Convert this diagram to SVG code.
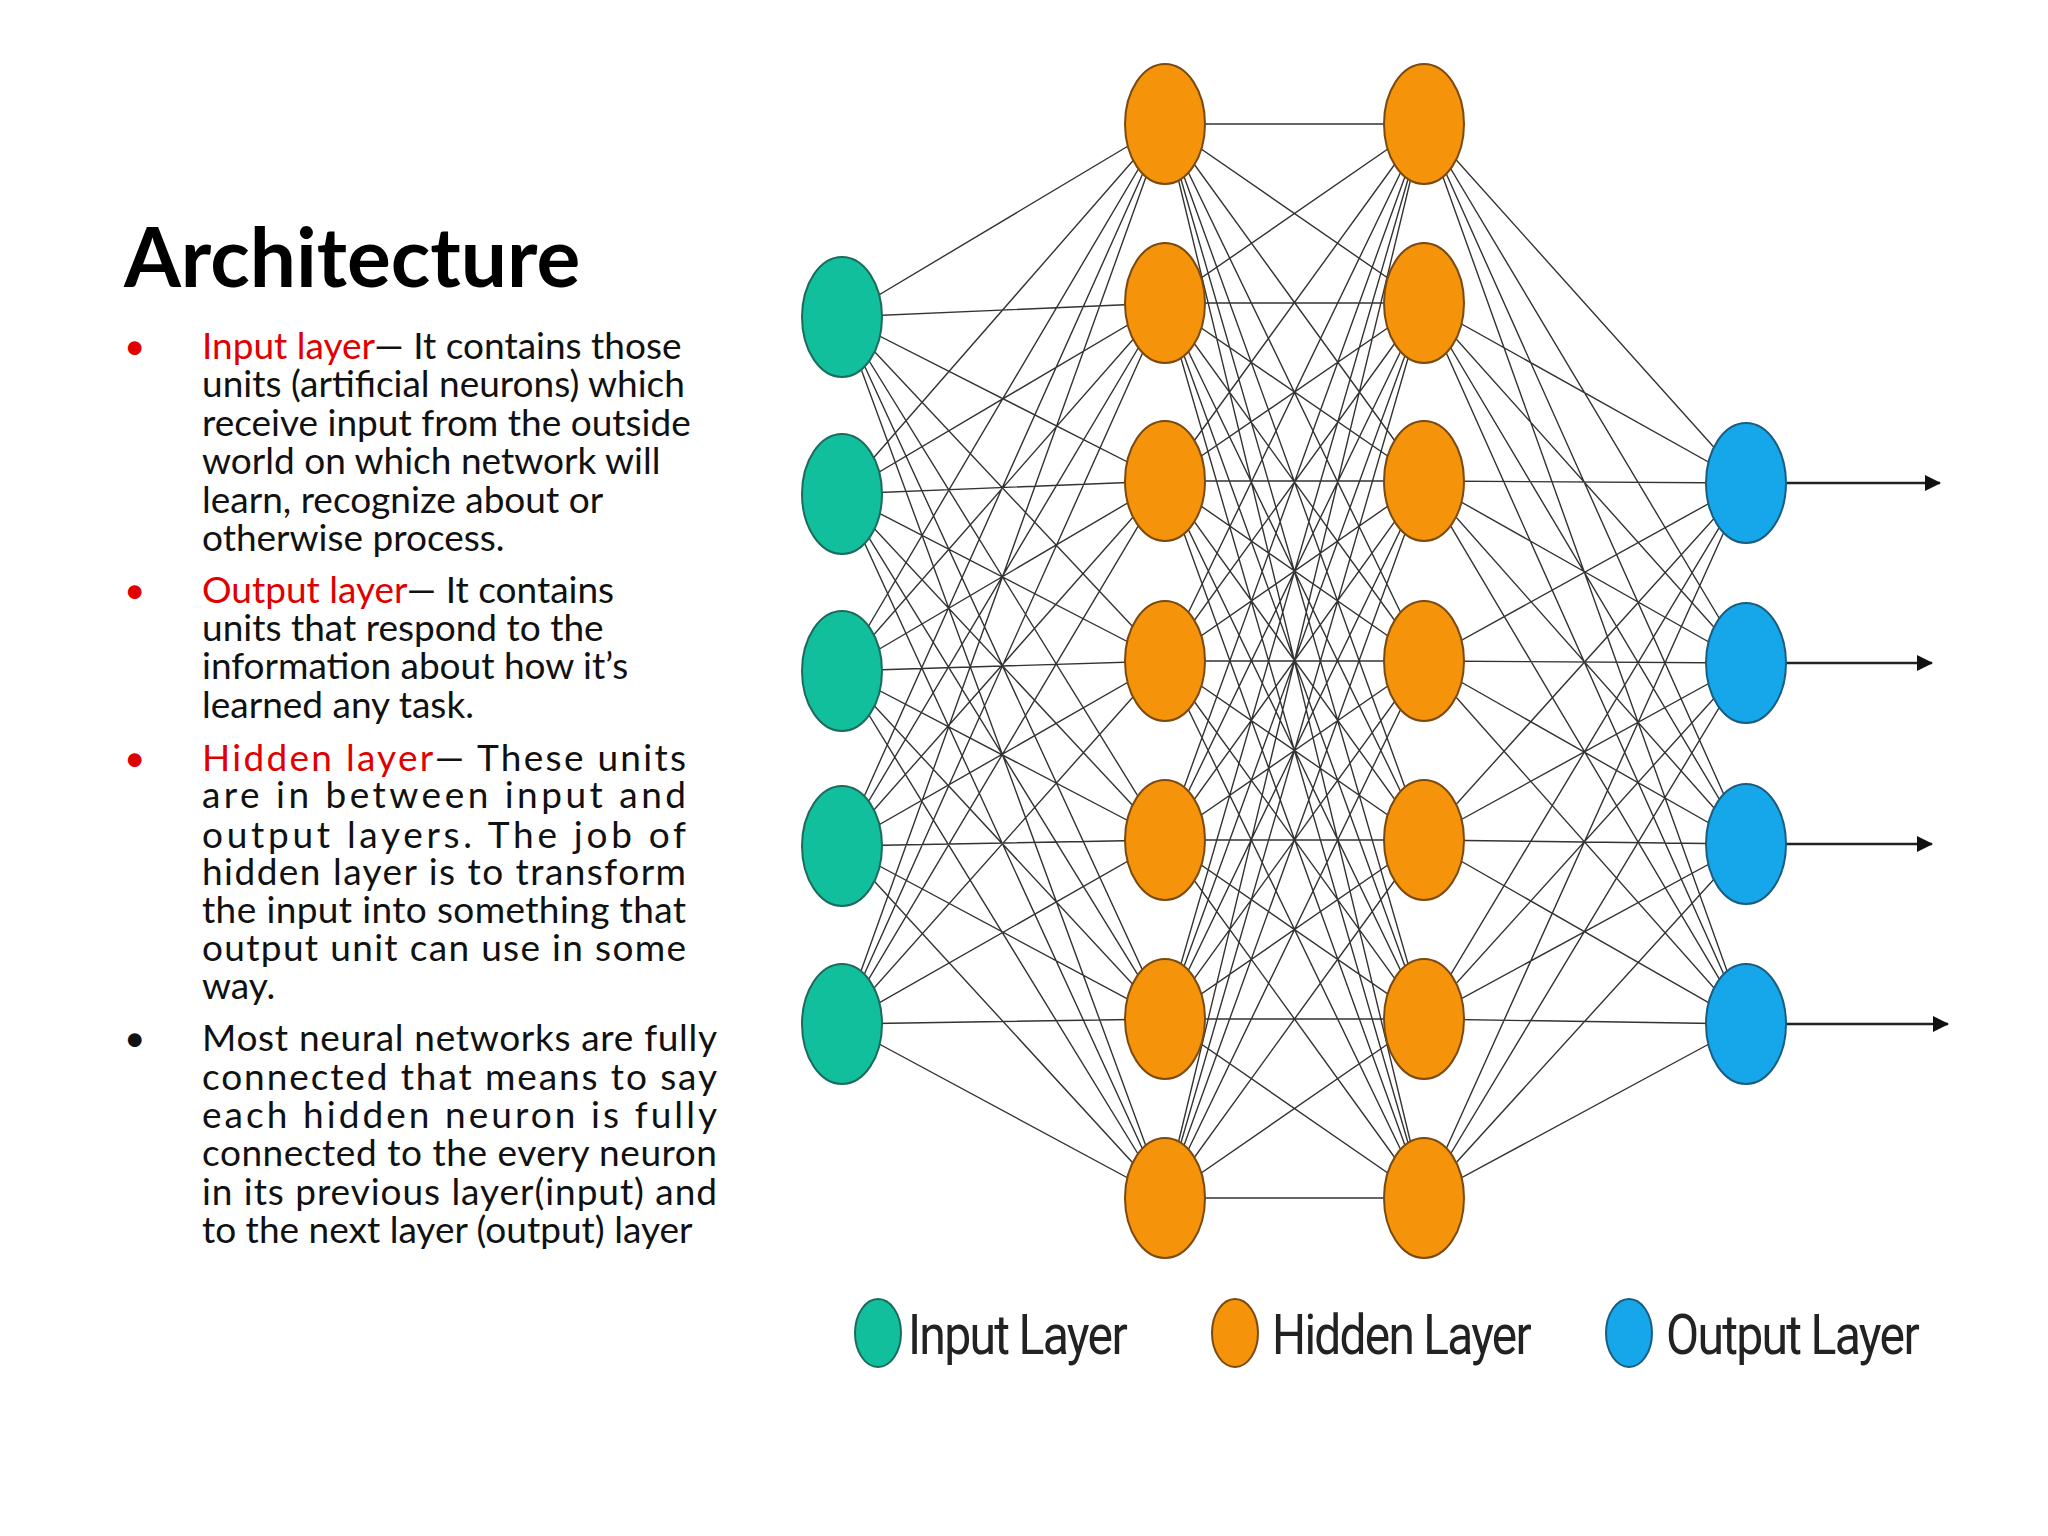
<svg xmlns="http://www.w3.org/2000/svg" width="2048" height="1536" viewBox="0 0 2048 1536">
<style>
.t{font-family:Lato,"Open Sans",sans-serif;font-size:37px;fill:#111}
.r{fill:#e00000}
.e{fill:none;stroke:#333;stroke-width:1.4}
.in{fill:#12bf9c;stroke:#1d6b5c;stroke-width:2}
.hd{fill:#f5930a;stroke:#7a4a10;stroke-width:2}
.ou{fill:#16a6ea;stroke:#1b5d80;stroke-width:2}
.lg{font-family:"Roboto","Liberation Sans",sans-serif;font-size:56px;fill:#222;letter-spacing:-2px}
</style>
<defs><marker id="ar" markerWidth="16" markerHeight="16" refX="15" refY="8" orient="auto" markerUnits="userSpaceOnUse" viewBox="0 0 16 16"><path d="M0 0L16 8L0 16z" fill="#111"/></marker></defs>
<rect width="2048" height="1536" fill="#fff"/>
<text x="124" y="287" font-family="Lato,sans-serif" font-weight="bold" font-size="82" fill="#000">Architecture</text>
<g id="text">
<text class="t r" x="124" y="359">•</text>
<text class="t" x="202" y="359"><tspan class="r">Input layer</tspan>— It contains those</text>
<text class="t" x="202" y="397">units (artificial neurons) which</text>
<text class="t" x="202" y="436">receive  input from the outside</text>
<text class="t" x="202" y="474">world on which network will</text>
<text class="t" x="202" y="513">learn, recognize about  or</text>
<text class="t" x="202" y="551">otherwise process.</text>
<text class="t r" x="124" y="603">•</text>
<text class="t" x="202" y="603"><tspan class="r">Output layer</tspan>— It contains</text>
<text class="t" x="202" y="641">units that respond to the</text>
<text class="t" x="202" y="679">information about  how it’s</text>
<text class="t" x="202" y="718">learned any task.</text>
<text class="t r" x="124" y="771">•</text>
<text class="t" x="202" y="771" textLength="484" lengthAdjust="spacing"><tspan class="r">Hidden  layer</tspan>—  These  units</text>
<text class="t" x="202" y="808" textLength="484" lengthAdjust="spacing">are  in  between  input  and</text>
<text class="t" x="202" y="848" textLength="484" lengthAdjust="spacing">output  layers.  The   job  of</text>
<text class="t" x="202" y="885" textLength="484" lengthAdjust="spacing">hidden  layer  is  to  transform</text>
<text class="t" x="202" y="923" textLength="484" lengthAdjust="spacing">the input into something that</text>
<text class="t" x="202" y="961" textLength="484" lengthAdjust="spacing">output  unit can use in some</text>
<text class="t" x="202" y="999">way.</text>
<text class="t" x="124" y="1051">•</text>
<text class="t" x="202" y="1051" textLength="515" lengthAdjust="spacing">Most neural networks are fully</text>
<text class="t" x="202" y="1090" textLength="515" lengthAdjust="spacing">connected  that  means  to  say</text>
<text class="t" x="202" y="1128" textLength="515" lengthAdjust="spacing">each  hidden    neuron  is  fully</text>
<text class="t" x="202" y="1166" textLength="515" lengthAdjust="spacing">connected to the every neuron</text>
<text class="t" x="202" y="1205" textLength="515" lengthAdjust="spacing">in its previous layer(input)  and</text>
<text class="t" x="202" y="1243">to the next layer (output) layer</text>
</g>
<g id="connectors">
<path class="e" d="M842 317L1165 124M842 317L1165 303M842 317L1165 481M842 317L1165 661M842 317L1165 840M842 317L1165 1019M842 317L1165 1198
M842 494L1165 124M842 494L1165 303M842 494L1165 481M842 494L1165 661M842 494L1165 840M842 494L1165 1019M842 494L1165 1198
M842 671L1165 124M842 671L1165 303M842 671L1165 481M842 671L1165 661M842 671L1165 840M842 671L1165 1019M842 671L1165 1198
M842 846L1165 124M842 846L1165 303M842 846L1165 481M842 846L1165 661M842 846L1165 840M842 846L1165 1019M842 846L1165 1198
M842 1024L1165 124M842 1024L1165 303M842 1024L1165 481M842 1024L1165 661M842 1024L1165 840M842 1024L1165 1019M842 1024L1165 1198"/>
<path class="e" d="M1165 124L1424 124M1165 124L1424 303M1165 124L1424 481M1165 124L1424 661M1165 124L1424 840M1165 124L1424 1019M1165 124L1424 1198
M1165 303L1424 124M1165 303L1424 303M1165 303L1424 481M1165 303L1424 661M1165 303L1424 840M1165 303L1424 1019M1165 303L1424 1198
M1165 481L1424 124M1165 481L1424 303M1165 481L1424 481M1165 481L1424 661M1165 481L1424 840M1165 481L1424 1019M1165 481L1424 1198
M1165 661L1424 124M1165 661L1424 303M1165 661L1424 481M1165 661L1424 661M1165 661L1424 840M1165 661L1424 1019M1165 661L1424 1198
M1165 840L1424 124M1165 840L1424 303M1165 840L1424 481M1165 840L1424 661M1165 840L1424 840M1165 840L1424 1019M1165 840L1424 1198
M1165 1019L1424 124M1165 1019L1424 303M1165 1019L1424 481M1165 1019L1424 661M1165 1019L1424 840M1165 1019L1424 1019M1165 1019L1424 1198
M1165 1198L1424 124M1165 1198L1424 303M1165 1198L1424 481M1165 1198L1424 661M1165 1198L1424 840M1165 1198L1424 1019M1165 1198L1424 1198"/>
<path class="e" d="M1424 124L1746 483M1424 124L1746 663M1424 124L1746 844M1424 124L1746 1024
M1424 303L1746 483M1424 303L1746 663M1424 303L1746 844M1424 303L1746 1024
M1424 481L1746 483M1424 481L1746 663M1424 481L1746 844M1424 481L1746 1024
M1424 661L1746 483M1424 661L1746 663M1424 661L1746 844M1424 661L1746 1024
M1424 840L1746 483M1424 840L1746 663M1424 840L1746 844M1424 840L1746 1024
M1424 1019L1746 483M1424 1019L1746 663M1424 1019L1746 844M1424 1019L1746 1024
M1424 1198L1746 483M1424 1198L1746 663M1424 1198L1746 844M1424 1198L1746 1024"/>
<g stroke="#222" stroke-width="2.5" marker-end="url(#ar)">
<line x1="1786" y1="483" x2="1940" y2="483"/>
<line x1="1786" y1="663" x2="1932" y2="663"/>
<line x1="1786" y1="844" x2="1932" y2="844"/>
<line x1="1786" y1="1024" x2="1948" y2="1024"/>
</g>
</g>
<g id="input-nodes">
<ellipse class="in" cx="842" cy="317" rx="40" ry="60"/>
<ellipse class="in" cx="842" cy="494" rx="40" ry="60"/>
<ellipse class="in" cx="842" cy="671" rx="40" ry="60"/>
<ellipse class="in" cx="842" cy="846" rx="40" ry="60"/>
<ellipse class="in" cx="842" cy="1024" rx="40" ry="60"/>
</g>
<g id="hidden1">
<ellipse class="hd" cx="1165" cy="124" rx="40" ry="60"/>
<ellipse class="hd" cx="1165" cy="303" rx="40" ry="60"/>
<ellipse class="hd" cx="1165" cy="481" rx="40" ry="60"/>
<ellipse class="hd" cx="1165" cy="661" rx="40" ry="60"/>
<ellipse class="hd" cx="1165" cy="840" rx="40" ry="60"/>
<ellipse class="hd" cx="1165" cy="1019" rx="40" ry="60"/>
<ellipse class="hd" cx="1165" cy="1198" rx="40" ry="60"/>
</g>
<g id="hidden2">
<ellipse class="hd" cx="1424" cy="124" rx="40" ry="60"/>
<ellipse class="hd" cx="1424" cy="303" rx="40" ry="60"/>
<ellipse class="hd" cx="1424" cy="481" rx="40" ry="60"/>
<ellipse class="hd" cx="1424" cy="661" rx="40" ry="60"/>
<ellipse class="hd" cx="1424" cy="840" rx="40" ry="60"/>
<ellipse class="hd" cx="1424" cy="1019" rx="40" ry="60"/>
<ellipse class="hd" cx="1424" cy="1198" rx="40" ry="60"/>
</g>
<g id="output-nodes">
<ellipse class="ou" cx="1746" cy="483" rx="40" ry="60"/>
<ellipse class="ou" cx="1746" cy="663" rx="40" ry="60"/>
<ellipse class="ou" cx="1746" cy="844" rx="40" ry="60"/>
<ellipse class="ou" cx="1746" cy="1024" rx="40" ry="60"/>
</g>
<g id="legend">
<ellipse class="in" cx="878" cy="1333" rx="23" ry="34"/>
<text class="lg" x="908" y="1354" textLength="218" lengthAdjust="spacingAndGlyphs">Input Layer</text>
<ellipse class="hd" cx="1235" cy="1333" rx="23" ry="34"/>
<text class="lg" x="1272" y="1354" textLength="258" lengthAdjust="spacingAndGlyphs">Hidden Layer</text>
<ellipse class="ou" cx="1629" cy="1333" rx="23" ry="34"/>
<text class="lg" x="1666" y="1354" textLength="252" lengthAdjust="spacingAndGlyphs">Output Layer</text>
</g>
</svg>
